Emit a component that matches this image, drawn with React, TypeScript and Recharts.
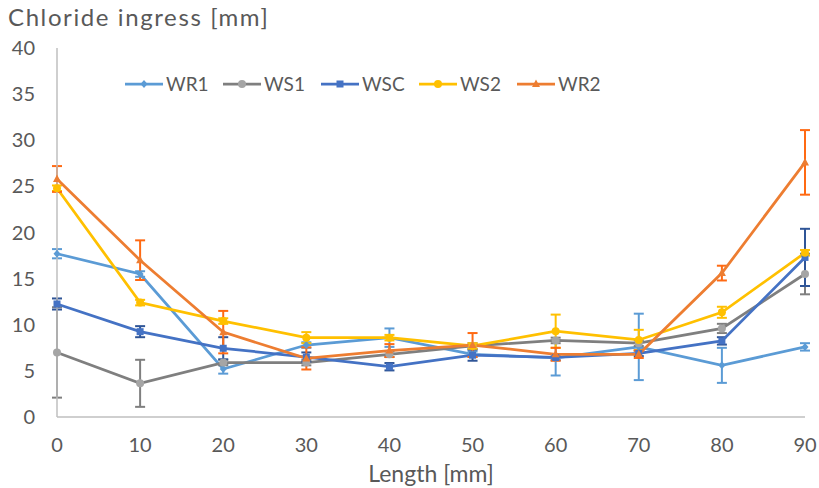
import React from "react";
import { LineChart, Line, XAxis, YAxis, ErrorBar } from "recharts";

const lengths = [0, 10, 20, 30, 40, 50, 60, 70, 80, 90];
const wr1 = [17.7, 15.5, 5.2, 7.8, 8.6, 6.8, 6.4, 7.6, 5.6, 7.6];
const wr1Err = [0.5, 0.3, 0.5, 0.3, 1.0, 0.3, 1.9, 3.6, 1.9, 0.4];
const ws1 = [7.0, 3.65, 5.9, 5.9, 6.8, 7.7, 8.3, 8.0, 9.6, 15.5];
const ws1Err = [4.9, 2.55, 0.3, 0.3, 0.3, 0.3, 0.3, 0.3, 0.5, 2.2];
const wsc = [12.25, 9.25, 7.45, 6.5, 5.45, 6.7, 6.45, 6.9, 8.25, 17.3];
const wscErr = [0.6, 0.6, 1.2, 0.5, 0.4, 0.6, 0.3, 0.3, 0.4, 3.1];
const ws2 = [24.8, 12.4, 10.4, 8.6, 8.6, 7.7, 9.3, 8.35, 11.35, 17.8];
const ws2Err = [0.3, 0.3, 0.3, 0.6, 0.3, 0.3, 1.8, 1.1, 0.6, 0.3];
const wr2 = [25.8, 17.0, 9.2, 6.35, 7.2, 7.8, 6.8, 6.8, 15.6, 27.6];
const wr2Err = [1.4, 2.15, 2.3, 1.2, 0.7, 1.3, 0.7, 0.4, 0.8, 3.5];

const xTicks = [0, 10, 20, 30, 40, 50, 60, 70, 80, 90];
const yTicks = [0, 5, 10, 15, 20, 25, 30, 35, 40];

const data = lengths.map((x, i) => ({
  x,
  wr1: wr1[i],
  wr1Err: wr1Err[i],
  ws1: ws1[i],
  ws1Err: ws1Err[i],
  wsc: wsc[i],
  wscErr: wscErr[i],
  ws2: ws2[i],
  ws2Err: ws2Err[i],
  wr2: wr2[i],
  wr2Err: wr2Err[i],
}));

const FONT = "Lato, 'Noto Sans', sans-serif";
const TEXT = "#595959";

type Shape = "diamond" | "circle" | "square" | "triangle";

const series: { key: string; name: string; color: string; marker: string; err: string; shape: Shape }[] = [
  { key: "wr1", name: "WR1", color: "#5B9BD5", marker: "#5B9BD5", err: "#5B9BD5", shape: "diamond" },
  { key: "ws1", name: "WS1", color: "#7F7F7F", marker: "#A5A5A5", err: "#7F7F7F", shape: "circle" },
  { key: "wsc", name: "WSC", color: "#4472C4", marker: "#4472C4", err: "#2F5597", shape: "square" },
  { key: "ws2", name: "WS2", color: "#FFC000", marker: "#FFC000", err: "#FFC000", shape: "circle" },
  { key: "wr2", name: "WR2", color: "#ED7D31", marker: "#ED7D31", err: "#FF6A13", shape: "triangle" },
];

function marker(shape: Shape, cx: number, cy: number, fill: string, key?: string) {
  if (shape === "diamond")
    return <path key={key} d={`M${cx},${cy - 4}L${cx + 3.5},${cy}L${cx},${cy + 4}L${cx - 3.5},${cy}Z`} fill={fill} />;
  if (shape === "square")
    return <rect key={key} x={cx - 3.5} y={cy - 3.5} width={7} height={7} fill={fill} />;
  if (shape === "triangle")
    return <path key={key} d={`M${cx},${cy - 4.5}L${cx + 4},${cy + 3}L${cx - 4},${cy + 3}Z`} fill={fill} />;
  return <circle key={key} cx={cx} cy={cy} r={4} fill={fill} />;
}

// legend sits on top of the plot, like the Excel one
const ChartLegend = () => (
  <div
    style={{
      position: "absolute",
      left: 125,
      top: 72,
      display: "flex",
      fontFamily: FONT,
      fontSize: 19,
      color: TEXT,
    }}
  >
    {series.map((s) => (
      <div key={s.key} style={{ display: "flex", alignItems: "center", width: 98 }}>
        <svg width={38} height={12}>
          <line x1={0} y1={6} x2={38} y2={6} stroke={s.color} strokeWidth={2.75} />
          {marker(s.shape, 19, 6, s.marker)}
        </svg>
        <span style={{ marginLeft: 3 }}>{s.name}</span>
      </div>
    ))}
  </div>
);

export default function App() {
  return (
    <div style={{ position: "absolute", left: 0, top: 0, width: 819, height: 488, background: "#fff" }}>
      <LineChart width={819} height={488} data={data} margin={{ top: 48, right: 14, bottom: 0, left: 0 }}>
        <XAxis
          dataKey="x"
          type="number"
          domain={[0, 90]}
          ticks={xTicks}
          stroke="#BFBFBF"
          strokeWidth={1.5}
          tickLine={false}
          tickSize={0}
          tickMargin={21}
          height={71}
          tick={{ fill: TEXT, fontSize: 20, fontFamily: FONT }}
          label={{ value: "Length [mm]", position: "insideBottom", offset: 6, fill: TEXT, fontSize: 23, fontFamily: FONT }}
        />
        <YAxis
          type="number"
          domain={[0, 40]}
          ticks={yTicks}
          width={57}
          stroke="#BFBFBF"
          strokeWidth={1.5}
          tickLine={false}
          tickSize={0}
          tickMargin={22}
          tick={{ fill: TEXT, fontSize: 20, fontFamily: FONT }}
        />
        {series.map((s) => (
          <Line
            key={s.key}
            dataKey={s.key}
            name={s.name}
            stroke={s.color}
            strokeWidth={2.75}
            isAnimationActive={false}
            dot={(p: any) => marker(s.shape, p.cx, p.cy, s.marker, `${s.key}-${p.index}`)}
            activeDot={false}
          >
            <ErrorBar dataKey={`${s.key}Err`} direction="y" width={5} stroke={s.err} strokeWidth={2} />
          </Line>
        ))}
      </LineChart>
      <div
        style={{
          position: "absolute",
          left: 8,
          top: 2,
          fontFamily: FONT,
          fontSize: 24,
          letterSpacing: 1.6,
          color: TEXT,
          whiteSpace: "nowrap",
        }}
      >
        Chloride ingress [mm]
      </div>
      <ChartLegend />
    </div>
  );
}
